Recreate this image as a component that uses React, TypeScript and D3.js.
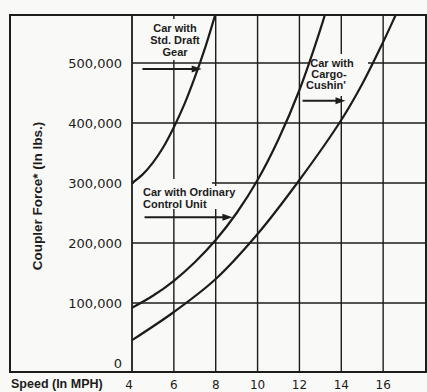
import React from "react";
import * as d3 from "d3";

// ---- data ----
const stdSpeed = [4, 4.5, 5, 5.5, 6, 6.5, 7, 7.5, 8, 8.3];
const stdForce = [300000, 314000, 334000, 360000, 393000, 431000, 476000, 526000, 583000, 619000];

const ordSpeed = [4, 5, 6, 7, 8, 9, 10, 11, 12, 13, 13.5];
const ordForce = [92000, 112000, 137000, 168000, 205000, 250000, 305000, 373000, 455000, 556000, 614000];

const cargoSpeed = [4, 6, 8, 10, 12, 14, 15, 16, 16.6, 17];
const cargoForce = [38000, 85000, 140000, 215000, 305000, 405000, 465000, 535000, 580000, 610000];

const xTicks = [4, 6, 8, 10, 12, 14, 16];
const yTicks = [0, 100000, 200000, 300000, 400000, 500000];
const yGrid = [100000, 200000, 300000, 400000, 500000];
const xGrid = [6, 8, 10, 12, 14, 16];

const labelStd = ["Car with", "Std. Draft", "Gear"];
const labelOrd = ["Car with Ordinary", "Control Unit"];
const labelCargo = ["Car with", "Cargo-", "Cushin'"];

const W = 427;
const H = 392;
const frame = { left: 10, top: 15, right: 426, bottom: 372 };
const plotLeft = 132;

export default function App() {
  const x = d3.scaleLinear().domain([4, 18]).range([plotLeft, 425]);
  const y = d3.scaleLinear().domain([-15000, 580000]).range([372, 15]);
  const line = d3
    .line<[number, number]>()
    .x((d) => x(d[0]))
    .y((d) => y(d[1]))
    .curve(d3.curveCatmullRom.alpha(0.5));

  const mk = (s: number[], f: number[]) => s.map((v, i) => [v, f[i]] as [number, number]);
  const series = [mk(stdSpeed, stdForce), mk(ordSpeed, ordForce), mk(cargoSpeed, cargoForce)];

  const ink = "#1c1c1c";
  const bg = "#f9f9f7";
  const arrows = [
    { f: 490000, a: 4.5, b: 7.33 },
    { f: 243000, a: 4.6, b: 8.8 },
    { f: 437000, a: 12.15, b: 14.2 },
  ];

  const fontTick = "'DejaVu Sans', sans-serif";
  const fontBold = "'Liberation Sans', Arial, sans-serif";

  return (
    <svg width={W} height={H} style={{ position: "absolute", left: 0, top: 0, background: bg }}>
      <defs>
        <clipPath id="plotclip">
          <rect x={plotLeft} y={frame.top} width={frame.right - plotLeft} height={frame.bottom - frame.top} />
        </clipPath>
      </defs>
      <rect x={0} y={0} width={W} height={H} fill={bg} />

      {/* grid */}
      {yGrid.map((t) => (
        <line key={"h" + t} x1={plotLeft} x2={frame.right} y1={y(t)} y2={y(t)} stroke={ink} strokeWidth={1.4} />
      ))}
      {xGrid.map((t) => (
        <line key={"v" + t} x1={x(t)} x2={x(t)} y1={frame.top} y2={frame.bottom} stroke={ink} strokeWidth={1.4} />
      ))}
      <line x1={plotLeft} x2={plotLeft} y1={frame.top} y2={frame.bottom} stroke={ink} strokeWidth={1.8} />

      {/* label masks */}
      <rect x={140} y={19} width={64} height={41} fill={bg} />
      <rect x={134} y={179} width={78} height={30} fill={bg} />
      <rect x={134} y={186} width={114} height={23} fill={bg} />
      <rect x={310} y={54} width={58} height={42} fill={bg} />

      {/* curves */}
      <g clipPath="url(#plotclip)">
        {series.map((s, i) => (
          <path key={i} d={line(s) || ""} fill="none" stroke={ink} strokeWidth={2.2} />
        ))}
      </g>

      {/* frame */}
      <rect
        x={frame.left}
        y={frame.top}
        width={frame.right - frame.left}
        height={frame.bottom - frame.top}
        fill="none"
        stroke={ink}
        strokeWidth={2}
      />

      {/* arrows */}
      {arrows.map((a, i) => {
        const yy = y(a.f);
        const x1 = x(a.a);
        const x2 = x(a.b);
        return (
          <g key={"a" + i}>
            <line x1={x1} x2={x2 - 8} y1={yy} y2={yy} stroke={ink} strokeWidth={2} />
            <path d={`M${x2},${yy} L${x2 - 10},${yy - 3.5} L${x2 - 10},${yy + 3.5} Z`} fill={ink} />
          </g>
        );
      })}

      {/* y tick labels */}
      {yTicks.map((t) => (
        <text key={"yl" + t} x={122} y={y(t) + 5} textAnchor="end" fontFamily={fontTick} fontSize={13} fill={ink}>
          {d3.format(",")(t)}
        </text>
      ))}

      {/* x tick labels */}
      {xTicks.map((t) => (
        <text
          key={"xl" + t}
          x={x(t) - (t === 4 ? 3 : 0)}
          y={389}
          textAnchor="middle"
          fontFamily={fontTick}
          fontSize={12}
          fill={ink}
        >
          {t}
        </text>
      ))}

      <text x={11} y={388} fontFamily={fontBold} fontWeight="bold" fontSize={12.5} fill={ink}>
        Speed (In MPH)
      </text>

      <text
        transform={`translate(42,196) rotate(-90)`}
        textAnchor="middle"
        fontFamily={fontBold}
        fontWeight="bold"
        fontSize={13.5}
        fill={ink}
      >
        Coupler Force* (In lbs.)
      </text>

      {/* annotation labels */}
      {labelStd.map((s, i) => (
        <text key={"ls" + i} x={175} y={32 + i * 12} textAnchor="middle" fontFamily={fontBold} fontWeight="bold" fontSize={11} fill={ink}>
          {s}
        </text>
      ))}
      {labelOrd.map((s, i) => (
        <text key={"lo" + i} x={143} y={196 + i * 11.5} fontFamily={fontBold} fontWeight="bold" fontSize={11} fill={ink}>
          {s}
        </text>
      ))}
      {labelCargo.map((s, i) => (
        <text key={"lc" + i} x={332 - i * 3} y={67 + i * 11} textAnchor="middle" fontFamily={fontBold} fontWeight="bold" fontSize={11} fill={ink}>
          {s}
        </text>
      ))}
    </svg>
  );
}
